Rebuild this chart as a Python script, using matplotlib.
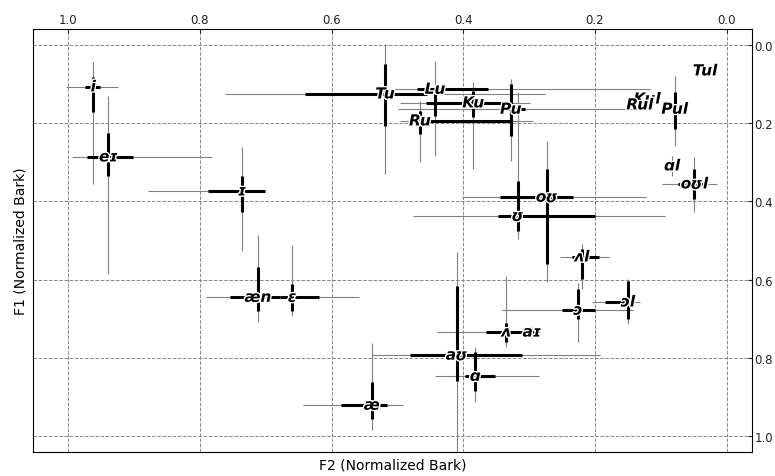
import matplotlib
matplotlib.use("Agg")
import matplotlib.pyplot as plt
import matplotlib.patheffects as pe

# vowel labels and centres (F2, F1 normalized bark)
labels = ["i", "eɪ", "ɪ", "æn", "ɛ", "æ", "ʌ", "aɪ", "aʊ", "ɑ", "ʌl", "ɔ", "ɔl",
          "ʊ", "oʊ", "Tu", "Lu", "Ku", "Pu", "Ru", "Tul", "Kul", "Rul", "Pul", "ɑl", "oʊl"]
f2 = [0.962, 0.939, 0.736, 0.712, 0.660, 0.539, 0.335, 0.296, 0.410, 0.382, 0.220, 0.226, 0.150,
      0.317, 0.273, 0.519, 0.443, 0.385, 0.328, 0.466, 0.033, 0.121, 0.132, 0.079, 0.083, 0.049]
f1 = [0.107, 0.286, 0.373, 0.645, 0.645, 0.921, 0.734, 0.734, 0.793, 0.847, 0.542, 0.678, 0.657,
      0.437, 0.389, 0.125, 0.113, 0.148, 0.164, 0.194, 0.066, 0.138, 0.153, 0.164, 0.309, 0.355]

# outer (thin) and inner (thick) spans along F2
f2_thin_lo = [1.003, 0.994, 0.879, 0.791, 0.716, 0.643, 0.440, 0.305, 0.539, 0.443, 0.253, 0.341, 0.205,
              0.476, 0.402, 0.762, 0.508, 0.496, 0.499, 0.496, 0.033, 0.121, 0.132, 0.079, 0.083, 0.099]
f2_thin_hi = [0.924, 0.781, 0.701, 0.663, 0.558, 0.492, 0.284, 0.285, 0.193, 0.285, 0.179, 0.143, 0.132,
              0.094, 0.123, 0.276, 0.117, 0.299, 0.140, 0.294, 0.033, 0.121, 0.132, 0.079, 0.083, 0.015]
f2_thick_lo = [0.974, 0.971, 0.788, 0.754, 0.678, 0.586, 0.366, 0.300, 0.481, 0.398, 0.235, 0.250, 0.185,
               0.347, 0.344, 0.640, 0.470, 0.457, 0.344, 0.478, 0.033, 0.121, 0.132, 0.079, 0.083, 0.074]
f2_thick_hi = [0.951, 0.901, 0.701, 0.678, 0.619, 0.516, 0.307, 0.290, 0.311, 0.352, 0.194, 0.200, 0.155,
               0.200, 0.234, 0.455, 0.363, 0.329, 0.307, 0.326, 0.033, 0.121, 0.132, 0.079, 0.083, 0.030]

# outer (thin) and inner (thick) spans along F1
f1_thin_lo = [0.043, 0.130, 0.261, 0.486, 0.512, 0.762, 0.591, 0.720, 0.529, 0.772, 0.509, 0.609, 0.598,
              0.120, 0.246, -0.003, 0.041, 0.095, 0.087, 0.143, 0.066, 0.138, 0.153, 0.079, 0.284, 0.286]
f1_thin_hi = [0.355, 0.586, 0.527, 0.708, 0.693, 0.985, 0.772, 0.750, 1.060, 0.913, 0.624, 0.760, 0.714,
              0.496, 0.606, 0.330, 0.284, 0.317, 0.297, 0.299, 0.066, 0.138, 0.153, 0.258, 0.335, 0.427]
f1_thick_lo = [0.082, 0.225, 0.335, 0.568, 0.611, 0.862, 0.710, 0.728, 0.616, 0.785, 0.522, 0.624, 0.604,
               0.348, 0.317, 0.049, 0.125, 0.118, 0.100, 0.169, 0.066, 0.138, 0.153, 0.120, 0.300, 0.317]
f1_thick_hi = [0.171, 0.335, 0.427, 0.680, 0.680, 0.957, 0.760, 0.740, 0.859, 0.885, 0.598, 0.700, 0.701,
               0.476, 0.560, 0.207, 0.182, 0.184, 0.233, 0.228, 0.066, 0.138, 0.153, 0.215, 0.318, 0.394]

fig = plt.figure(figsize=(7.75, 4.77), dpi=100)
ax = fig.add_axes([0.043, 0.050, 0.927, 0.887])

for i in range(len(labels)):
    ax.hlines(f1[i], f2_thin_lo[i], f2_thin_hi[i], color="#808080", linewidth=0.8, zorder=2)
    ax.vlines(f2[i], f1_thin_lo[i], f1_thin_hi[i], color="#808080", linewidth=0.8, zorder=2)
for i in range(len(labels)):
    ax.hlines(f1[i], f2_thick_lo[i], f2_thick_hi[i], color="black", linewidth=2.2, zorder=3)
    ax.vlines(f2[i], f1_thick_lo[i], f1_thick_hi[i], color="black", linewidth=2.2, zorder=3)
for i in range(len(labels)):
    ax.text(f2[i], f1[i], labels[i], ha="center", va="center", fontsize=11,
            fontweight="bold", fontstyle="italic", zorder=5,
            path_effects=[pe.withStroke(linewidth=2, foreground="white")])

ax.set_xlim(1.053, -0.038)
ax.set_ylim(1.041, -0.041)
ax.set_xticks([1.0, 0.8, 0.6, 0.4, 0.2, 0.0])
ax.set_yticks([0.0, 0.2, 0.4, 0.6, 0.8, 1.0])
ax.xaxis.tick_top()
ax.yaxis.tick_right()
ax.tick_params(labelsize=8.5, colors="#222222", direction="in", length=3, pad=2)
ax.set_xlabel("F2 (Normalized Bark)", fontsize=10, labelpad=4)
ax.xaxis.set_label_position("bottom")
ax.set_ylabel("F1 (Normalized Bark)", fontsize=10, labelpad=4)
ax.yaxis.set_label_position("left")
ax.grid(True, linestyle="--", color="#888888", linewidth=0.7)
ax.set_axisbelow(True)

fig.savefig("out.png", dpi=100)
